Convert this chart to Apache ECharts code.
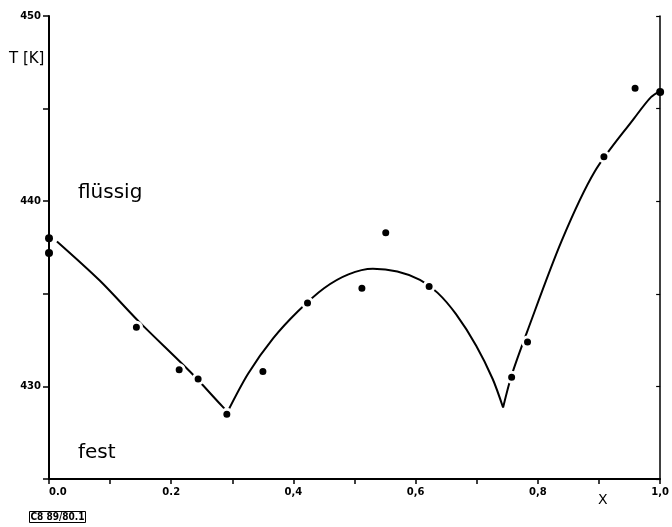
<!DOCTYPE html>
<html lang="de">
<head>
    <meta charset="UTF-8">
    <title>T-X Phasendiagramm</title>
    <script src="https://cdn.jsdelivr.net/npm/echarts@6/dist/echarts.min.js"></script>
    <style>
        html, body { margin: 0; padding: 0; background: #fff; }
        #main { width: 672px; height: 527px; }
    </style>
</head>
<body>
    <div id="main"></div>
    <script>
    // Messpunkte (x, T in K)
    var pointsX = [0.0, 0.0, 0.143, 0.213, 0.244, 0.291, 0.350, 0.423, 0.512, 0.551, 0.622, 0.757, 0.783, 0.908, 0.959, 1.0];
    var pointsT = [438.0, 437.2, 433.2, 430.9, 430.4, 428.5, 430.8, 434.5, 435.3, 438.3, 435.4, 430.5, 432.4, 442.4, 446.1, 445.9];

    // Liquiduskurven, drei Aeste
    var curveAX = [0.013, 0.083, 0.148, 0.231, 0.280, 0.292];
    var curveAT = [437.83, 435.72, 433.47, 430.79, 429.05, 428.62];

    var curveBX = [0.292, 0.326, 0.367, 0.407, 0.45, 0.49, 0.53, 0.57, 0.607, 0.636, 0.666, 0.699, 0.726, 0.743];
    var curveBT = [428.62, 430.7, 432.6, 434.04, 435.3, 436.05, 436.35, 436.2, 435.75, 435.05, 433.9, 432.2, 430.4, 428.86];

    var curveCX = [0.743, 0.757, 0.782, 0.839, 0.893, 0.958, 0.985, 1.0];
    var curveCT = [428.86, 430.6, 432.92, 437.87, 441.6, 444.5, 445.62, 445.95];

    // Achsenbeschriftung
    var xTickLabels = ['0.0', '', '0.2', '', '0,4', '', '0,6', '', '0,8', '', '1,0'];
    var yTickLabels = ['', '430', '', '440', '', '450'];

    function zip(xs, ys) {
        return xs.map(function (x, i) { return [x, ys[i]]; });
    }

    var pointData = pointsX.map(function (x, i) {
        var d = { value: [x, pointsT[i]] };
        // Punkte auf der Achse: kein weisser Rand, sonst wird die Achse unterbrochen
        if (x === 0 || x === 1) {
            d.symbolSize = 8;
            d.itemStyle = { borderWidth: 0 };
        }
        return d;
    });

    var tickFont = { color: '#000', fontFamily: 'DejaVu Sans', fontWeight: 'bold', fontSize: 10 };

    var curveStyle = {
        type: 'line',
        smooth: 0.3,
        showSymbol: false,
        symbol: 'none',
        silent: true,
        z: 2,
        lineStyle: { color: '#000', width: 2 }
    };

    var myChart = echarts.init(document.getElementById('main'), null, { renderer: 'canvas' });

    var option = {
        backgroundColor: '#fff',
        animation: false,
        grid: { left: 49, right: 6, top: 16, bottom: 48, containLabel: false },
        xAxis: {
            type: 'value',
            min: 0,
            max: 1,
            interval: 0.1,
            axisLine: { show: true, onZero: false, lineStyle: { color: '#000', width: 2 } },
            axisTick: { show: true, length: 5, lineStyle: { color: '#000', width: 1.5 } },
            axisLabel: Object.assign({
                margin: 8,
                alignMinLabel: 'left',
                formatter: function (v) { return xTickLabels[Math.round(v * 10)]; }
            }, tickFont),
            splitLine: { show: false }
        },
        yAxis: [
            {
                type: 'value',
                position: 'left',
                min: 425,
                max: 450,
                interval: 5,
                axisLine: { show: true, onZero: false, lineStyle: { color: '#000', width: 2 } },
                axisTick: { show: true, length: 6, lineStyle: { color: '#000', width: 1.5 } },
                axisLabel: Object.assign({
                    margin: 8,
                    formatter: function (v) { return yTickLabels[Math.round((v - 425) / 5)]; }
                }, tickFont),
                splitLine: { show: false }
            },
            {
                type: 'value',
                position: 'right',
                min: 425,
                max: 450,
                interval: 5,
                alignTicks: false,
                axisLine: { show: true, onZero: false, lineStyle: { color: '#000', width: 1.5 } },
                axisTick: { show: true, inside: true, length: 4, lineStyle: { color: '#000', width: 1.2 } },
                axisLabel: { show: false },
                splitLine: { show: false }
            }
        ],
        series: [
            Object.assign({ name: 'A', data: zip(curveAX, curveAT) }, curveStyle),
            Object.assign({ name: 'B', data: zip(curveBX, curveBT) }, curveStyle),
            Object.assign({ name: 'C', data: zip(curveCX, curveCT) }, curveStyle),
            {
                name: 'Messwerte',
                type: 'scatter',
                symbol: 'circle',
                symbolSize: 10,
                z: 5,
                silent: true,
                itemStyle: { color: '#000', borderColor: '#fff', borderWidth: 3, opacity: 1 },
                data: pointData
            }
        ],
        graphic: [
            { type: 'text', left: 9, top: 52, style: { text: 'T [K]', fill: '#000', font: '15px "DejaVu Sans"' } },
            { type: 'text', left: 78, top: 183, style: { text: 'flüssig', fill: '#000', font: '20px "DejaVu Sans"' } },
            { type: 'text', left: 78, top: 443, style: { text: 'fest', fill: '#000', font: '20px "DejaVu Sans"' } },
            { type: 'text', left: 598, top: 493, style: { text: 'X', fill: '#000', font: '14px "DejaVu Sans"' } },
            {
                type: 'text', left: 29, top: 511,
                style: {
                    text: 'C8 89/80.1', fill: '#000',
                    font: 'bold 10px "DejaVu Sans Condensed", "DejaVu Sans"',
                    borderColor: '#000', borderWidth: 1, padding: [1, 1, 0, 1]
                }
            }
        ]
    };

    myChart.setOption(option);
    window.addEventListener('resize', myChart.resize);
    </script>
</body>
</html>
